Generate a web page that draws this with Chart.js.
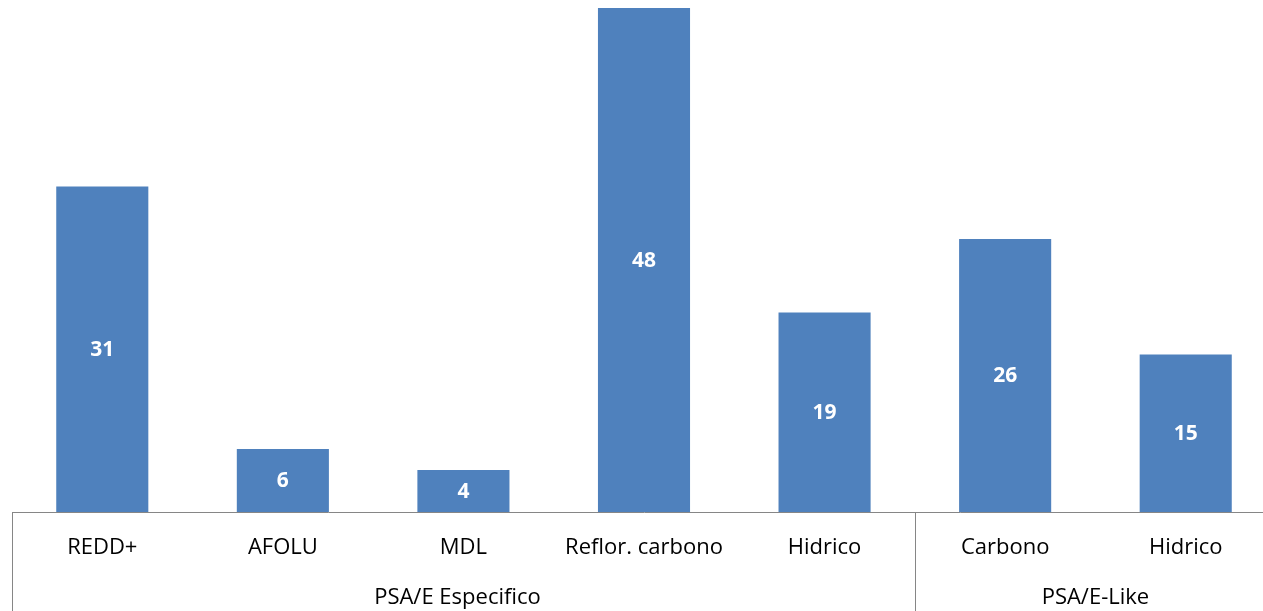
<!DOCTYPE html>
<html>
<head>
<meta charset="utf-8">
<script src="https://cdn.jsdelivr.net/npm/chart.js@4/dist/chart.umd.min.js"></script>
<style>
  html, body { margin: 0; padding: 0; background: #fff; overflow: hidden; }
  #wrap { position: relative; width: 1276px; height: 611px; }
</style>
</head>
<body>
<div id="wrap"><canvas id="chart"></canvas></div>
<script>
var categories = ['REDD+', 'AFOLU', 'MDL', 'Reflor. carbono', 'Hidrico', 'Carbono', 'Hidrico'];
var values = [31, 6, 4, 48, 19, 26, 15];
// groups: name, first index, last index
var groupNames = ['PSA/E Especifico', 'PSA/E-Like'];
var groupStart = [0, 5];
var groupEnd = [4, 6];

var FONT = "'Open Sans', 'Noto Sans', sans-serif";
var lineColor = '#868686';

var extras = {
  id: 'extras',
  afterDatasetsDraw: function(chart) {
    var ctx = chart.ctx;
    var meta = chart.getDatasetMeta(0);
    ctx.save();
    ctx.fillStyle = '#fff';
    ctx.font = 'bold 21px ' + FONT;
    ctx.textAlign = 'center';
    ctx.textBaseline = 'middle';
    meta.data.forEach(function(bar, i) {
      var mid = (bar.y + bar.base) / 2;
      ctx.fillText(values[i], bar.x, mid + 1);
    });
    ctx.restore();
  },
  afterDraw: function(chart) {
    var ctx = chart.ctx;
    var x = chart.scales.x;
    var half = (x.getPixelForValue(1) - x.getPixelForValue(0)) / 2;
    var bottom = chart.chartArea.bottom;
    ctx.save();
    ctx.strokeStyle = lineColor;
    ctx.lineWidth = 1;
    ctx.fillStyle = '#000';
    ctx.font = '22px ' + FONT;
    ctx.textAlign = 'center';
    ctx.textBaseline = 'middle';
    for (var g = 0; g < groupNames.length; g++) {
      var left = x.getPixelForValue(groupStart[g]) - half;
      var right = x.getPixelForValue(groupEnd[g]) + half;
      [left, right].forEach(function(px) {
        var p = Math.round(px) + 0.5;
        ctx.beginPath();
        ctx.moveTo(p, bottom);
        ctx.lineTo(p, chart.height);
        ctx.stroke();
      });
      ctx.fillText(groupNames[g], (left + right) / 2 - (g === 0 ? 6 : 0), 598);
    }
    ctx.restore();
  }
};

new Chart(document.getElementById('chart'), {
  type: 'bar',
  data: {
    labels: categories,
    datasets: [{
      data: values,
      backgroundColor: '#4F81BD',
      barPercentage: 0.51,
      categoryPercentage: 1
    }]
  },
  options: {
    responsive: true,
    maintainAspectRatio: false,
    animation: false,
    layout: { padding: { left: 12, right: 0, top: 0, bottom: 0 } },
    plugins: { legend: { display: false }, tooltip: { enabled: false } },
    scales: {
      y: { display: false, min: 0, max: 48.76 },
      x: {
        grid: { display: false, drawTicks: false },
        border: { display: true, color: lineColor, width: 1 },
        ticks: { color: '#000', font: { size: 22, family: FONT }, padding: 23, maxRotation: 0, autoSkip: false },
        afterFit: function(s) { s.height = 99; }
      }
    }
  },
  plugins: [extras]
});
</script>
</body>
</html>
